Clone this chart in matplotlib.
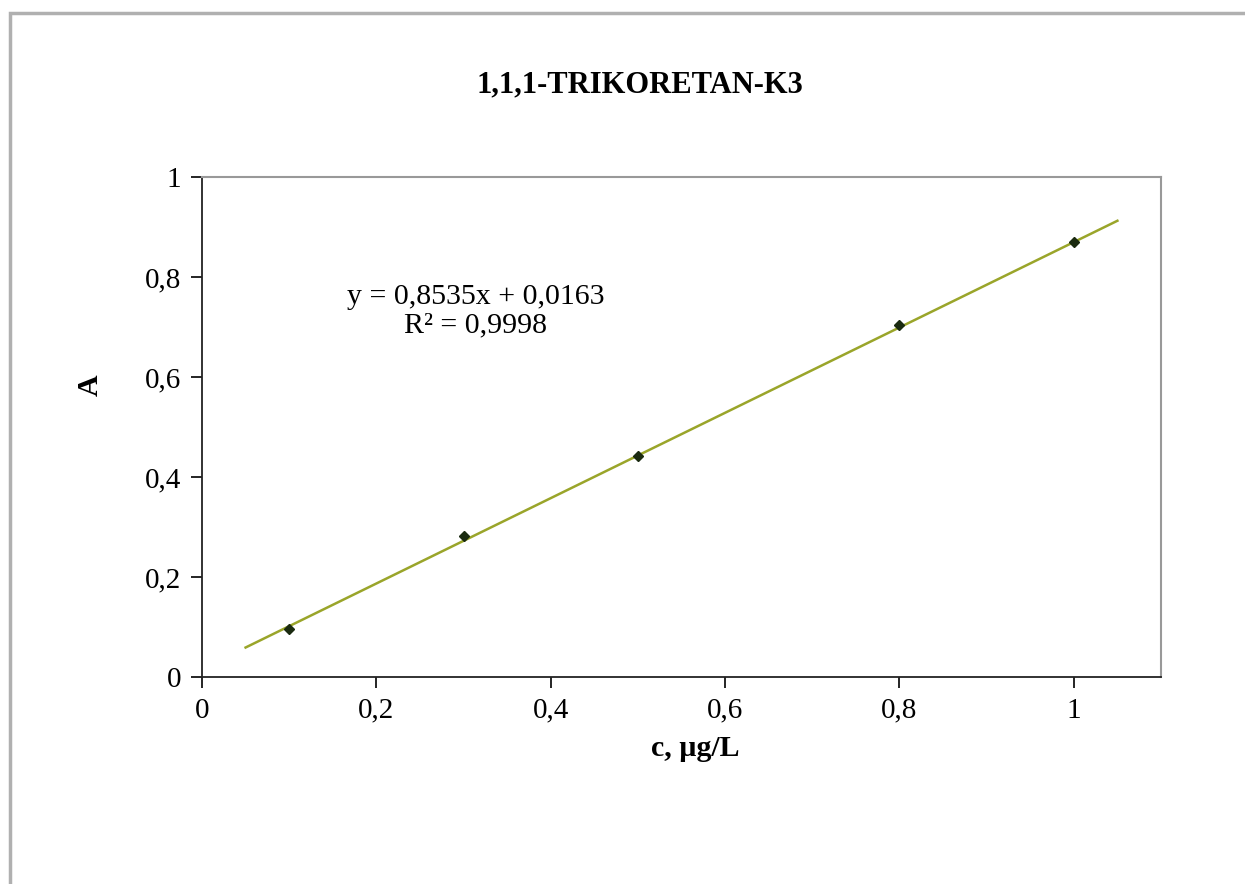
import matplotlib.pyplot as plt
import numpy as np
from matplotlib.patches import Rectangle

plt.rcParams['font.family'] = ['Liberation Serif', 'DejaVu Serif']

conc = [0.1, 0.3, 0.5, 0.8, 1.0]
absorb = [0.096, 0.282, 0.442, 0.704, 0.870]
slope = 0.8535
intercept = 0.0163
x_ticks = [0, 0.2, 0.4, 0.6, 0.8, 1]
y_ticks = [0, 0.2, 0.4, 0.6, 0.8, 1]


def fmt(v):
    return ('%g' % v).replace('.', ',')


fig = plt.figure(figsize=(12.45, 8.84), dpi=100)
# outer chart frame
fig.patches.append(Rectangle((10 / 1245, -0.01), 1.2, 1 - 13 / 884 + 0.01,
                             transform=fig.transFigure, fill=False,
                             edgecolor='#b0b0b0', linewidth=2.5))

ax = fig.add_axes([202 / 1245, 1 - 677 / 884, (1161 - 202) / 1245, (677 - 177) / 884])

xs = np.array([0.05, 1.05])
ax.plot(xs, slope * xs + intercept, color='#9aa52a', linewidth=1.8, zorder=2)
ax.plot(conc, absorb, linestyle='none', marker='D', markersize=5.5,
        color='#1a2a10', zorder=3)

ax.set_xlim(0, 1.1)
ax.set_ylim(0, 1)
ax.set_xticks(x_ticks)
ax.set_yticks(y_ticks)
ax.set_xticklabels([fmt(v) for v in x_ticks])
ax.set_yticklabels([fmt(v) for v in y_ticks])
ax.tick_params(labelsize=21, direction='out', length=8, width=1.2, pad=7)

for s in ['top', 'right']:
    ax.spines[s].set_color('#999999')
    ax.spines[s].set_linewidth(1.5)
for s in ['left', 'bottom']:
    ax.spines[s].set_color('#222222')
    ax.spines[s].set_linewidth(1.3)

ax.set_xlabel('c, µg/L', fontsize=21.5, fontweight='bold')
ax.xaxis.set_label_coords(0.514, -0.115)
ax.set_ylabel('A', fontsize=21.5, fontweight='bold')
ax.yaxis.set_label_coords(-0.102, 0.584)
fig.text(640 / 1245, 1 - 85 / 884, '1,1,1-TRIKORETAN-K3', ha='center', va='center',
         fontsize=22, fontweight='bold')

ax.text(0.285, 0.732, 'y = 0,8535x + 0,0163\nR² = 0,9998', transform=ax.transAxes,
        ha='center', va='center', fontsize=21.5, linespacing=1.1)

fig.savefig('out.png', dpi=100)
